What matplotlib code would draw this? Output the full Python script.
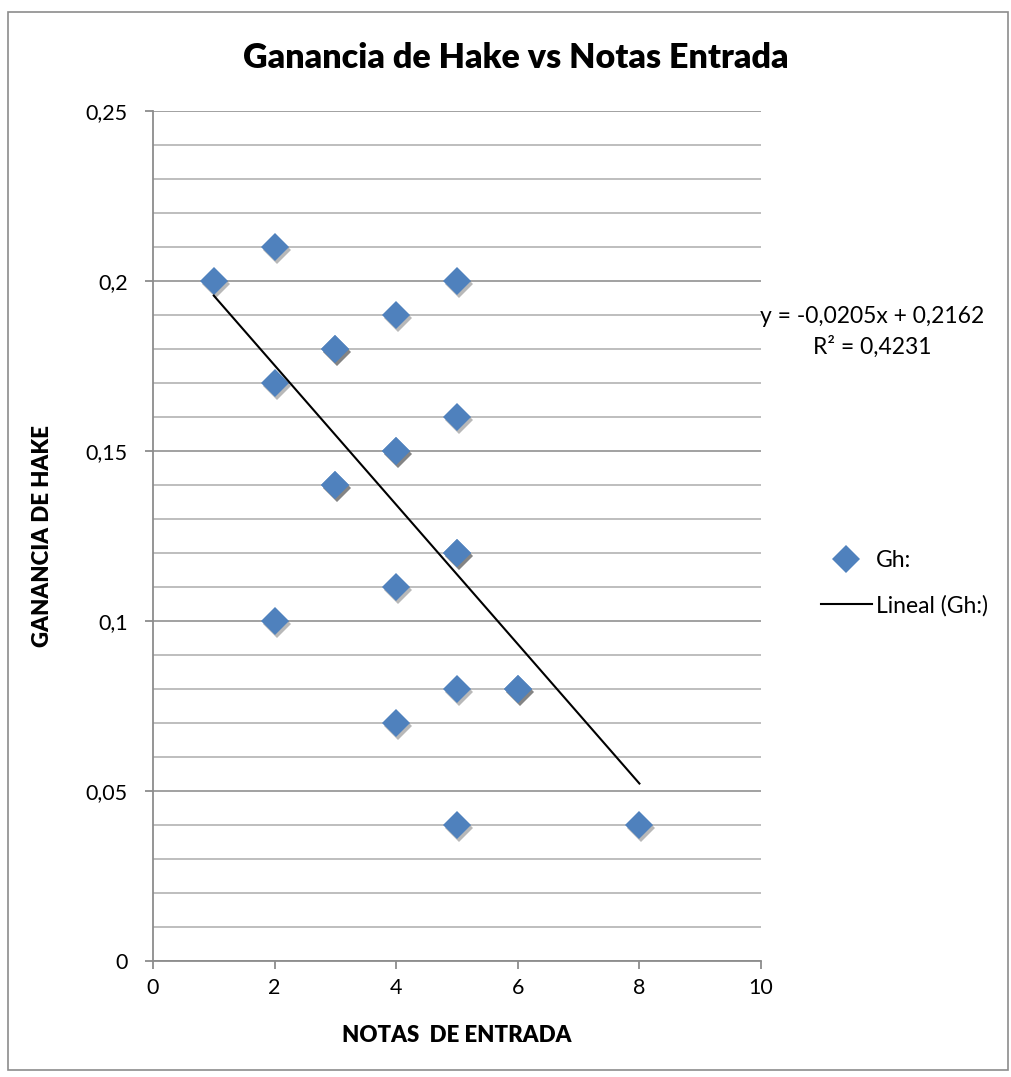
import matplotlib
matplotlib.use("Agg")
import matplotlib.pyplot as plt
import matplotlib.transforms as mtransforms
from matplotlib.patches import Rectangle
from matplotlib.ticker import MultipleLocator, FuncFormatter
import numpy as np

plt.rcParams['font.family'] = ['Lato', 'DejaVu Sans']

# datos (los puntos repetidos se superponen)
notas_entrada = [1, 2, 2, 2, 3, 3, 3, 3, 4, 4, 4, 4, 4, 5, 5, 5, 5, 5, 5, 6, 6, 8]
ganancia_hake = [0.20, 0.21, 0.17, 0.10, 0.18, 0.18, 0.14, 0.14, 0.19, 0.15, 0.15,
                 0.11, 0.07, 0.20, 0.16, 0.12, 0.12, 0.08, 0.04, 0.08, 0.08, 0.04]

# linea de tendencia como la muestra el grafico
pendiente = -0.0205
intercepto = 0.2162
r2 = 0.4231

x_ticks = [0, 2, 4, 6, 8, 10]

fig = plt.figure(figsize=(10.11, 10.77), dpi=100)
fig.patches.append(Rectangle((8 / 1011, 7 / 1077), 1000 / 1011, 1058 / 1077,
                             transform=fig.transFigure, fill=False,
                             edgecolor='#8c8c8c', linewidth=1.2))

ax = fig.add_axes([153 / 1011, 116 / 1077, 608 / 1011, 850 / 1077])

azul = '#4F81BD'
sombra = mtransforms.offset_copy(ax.transData, fig=fig, x=1.5, y=-2.2, units='points')
ax.plot(notas_entrada, ganancia_hake, linestyle='none', marker='D', markersize=14,
        color='black', alpha=0.28, transform=sombra, zorder=3, markeredgewidth=0)
ax.plot(notas_entrada, ganancia_hake, linestyle='none', marker='D', markersize=14,
        color=azul, markeredgewidth=0, label='Gh:', zorder=4)

xs = np.array([min(notas_entrada), max(notas_entrada)])
ax.plot(xs, pendiente * xs + intercepto, color='black', linewidth=1.5,
        label='Lineal (Gh:)', zorder=5)

ax.set_xlim(0, 10)
ax.set_ylim(0, 0.25)
ax.set_xticks(x_ticks)
ax.yaxis.set_major_locator(MultipleLocator(0.05))
ax.yaxis.set_minor_locator(MultipleLocator(0.01))
ax.yaxis.set_major_formatter(FuncFormatter(lambda v, p: ('%g' % round(v, 2)).replace('.', ',')))

ax.grid(axis='y', which='major', color='#9a9a9a', linewidth=1.3)
ax.grid(axis='y', which='minor', color='#b9b9b9', linewidth=1.3)
ax.set_axisbelow(True)

for s in ['top', 'right']:
    ax.spines[s].set_visible(False)
for s in ['left', 'bottom']:
    ax.spines[s].set_color('#8c8c8c')
    ax.spines[s].set_linewidth(1.3)

ax.tick_params(axis='both', which='major', direction='out', length=6, width=1.3,
               color='#8c8c8c', labelsize=15.5, pad=6)
ax.tick_params(axis='y', which='minor', length=0)
ax.tick_params(axis='y', pad=12)

ax.set_xlabel('NOTAS  DE ENTRADA', fontsize=16, fontweight='heavy', labelpad=20)
ax.set_ylabel('GANANCIA DE HAKE', fontsize=16, fontweight='heavy', labelpad=24)
fig.text(516 / 1011, 1 - 58 / 1077, 'Ganancia de Hake vs Notas Entrada', fontsize=24.5,
         fontweight='heavy', ha='center', va='center')

eq = 'y = %s0x + %s\nR² = %s' % (str(pendiente).replace('.', ','),
                                  str(intercepto).replace('.', ','),
                                  str(r2).replace('.', ','))
eq = eq.replace('-0,02050x', '-0,0205x')
fig.text(872 / 1011, 1 - 332 / 1077, eq, fontsize=16.5, ha='center', va='center',
         linespacing=1.45)

fig.legend(loc='center left', bbox_to_anchor=(812 / 1011, 1 - 583 / 1077),
           frameon=False, fontsize=16.5, handlelength=2.2, handletextpad=0.2,
           labelspacing=1.05, borderaxespad=0)

fig.savefig('out.png', dpi=100)
